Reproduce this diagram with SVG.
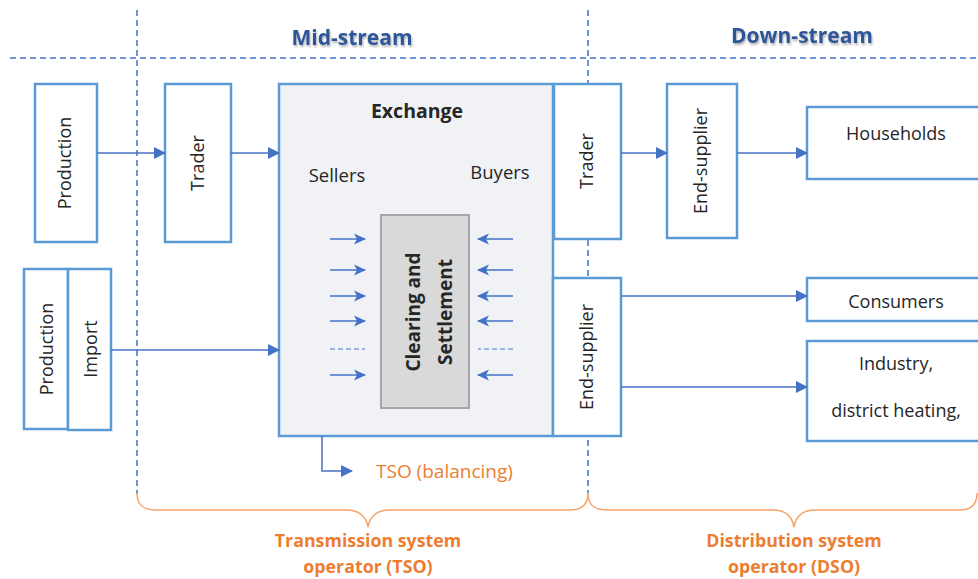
<svg xmlns="http://www.w3.org/2000/svg" width="978" height="579" viewBox="0 0 978 579">
  <defs>
    <style>
      .box { fill: #ffffff; stroke: #5b9bd5; stroke-width: 2.5; }
      .exch { fill: #f0f2f5; stroke: #5b9bd5; stroke-width: 2.5; }
      .clear { fill: #d9d9d9; stroke: #a6a6a6; stroke-width: 2; }
      .lbl { font-family: "Open Sans", "Noto Sans", sans-serif; font-size: 18px; fill: #262626; }
      .bold { font-weight: bold; }
      .head { font-family: "Open Sans", "Noto Sans", sans-serif; font-size: 21px; font-weight: bold; fill: #2f5597; }
      .org { font-family: "Open Sans", "Noto Sans", sans-serif; fill: #ed7d31; }
      .conn { fill: none; stroke: #4472c4; stroke-width: 1.5; }
      .guide { fill: none; stroke: #4472c4; stroke-width: 1.5; stroke-dasharray: 6 4; }
      .brace { fill: none; stroke: #f4a46a; stroke-width: 1.5; }
    </style>
    <marker id="tri" markerWidth="12" markerHeight="12" refX="11" refY="6" orient="auto" markerUnits="userSpaceOnUse">
      <path d="M0,0 L12,6 L0,12 z" fill="#4472c4"/>
    </marker>
    <marker id="dart" markerWidth="13" markerHeight="13" refX="12" refY="6.5" orient="auto" markerUnits="userSpaceOnUse">
      <path d="M1,1 L13,6.5 L1,12 L4,6.5 z" fill="#4472c4"/>
    </marker>
    <filter id="shadow" x="-10%" y="-30%" width="120%" height="160%">
      <feDropShadow dx="1" dy="2" stdDeviation="1.2" flood-color="#000" flood-opacity="0.3"/>
    </filter>
  </defs>

  <!-- section guides -->
  <g id="guides">
    <line class="guide" x1="10" y1="58" x2="978" y2="58"/>
    <line class="guide" x1="137" y1="10" x2="137" y2="494"/>
    <line class="guide" x1="588" y1="10" x2="588" y2="494"/>
  </g>

  <g id="headings">
    <text class="head" x="352" y="45" text-anchor="middle" filter="url(#shadow)">Mid-stream</text>
    <text class="head" x="802" y="43" text-anchor="middle" filter="url(#shadow)">Down-stream</text>
  </g>

  <!-- nodes -->
  <g id="production">
    <rect class="box" x="35" y="84" width="62" height="158"/>
    <text class="lbl" transform="rotate(-90 64 163)" x="64" y="163" text-anchor="middle" dominant-baseline="central">Production</text>
  </g>
  <g id="trader-left">
    <rect class="box" x="165" y="84" width="66" height="158"/>
    <text class="lbl" transform="rotate(-90 197 163)" x="197" y="163" text-anchor="middle" dominant-baseline="central">Trader</text>
  </g>
  <g id="production-2">
    <rect class="box" x="24" y="269" width="44" height="160"/>
    <text class="lbl" transform="rotate(-90 46 349)" x="46" y="349" text-anchor="middle" dominant-baseline="central">Production</text>
  </g>
  <g id="import">
    <rect class="box" x="68" y="269" width="43" height="161"/>
    <text class="lbl" transform="rotate(-90 90 349)" x="90" y="349" text-anchor="middle" dominant-baseline="central">Import</text>
  </g>

  <g id="exchange">
    <rect class="exch" x="279" y="84" width="274" height="352"/>
    <text class="lbl bold" x="417" y="118" text-anchor="middle" style="font-size:19.5px">Exchange</text>
    <text class="lbl" x="337" y="182" text-anchor="middle" style="font-size:18.5px">Sellers</text>
    <text class="lbl" x="500" y="179" text-anchor="middle" style="font-size:18.5px">Buyers</text>
  </g>
  <g id="clearing">
    <rect class="clear" x="381" y="215" width="88" height="193"/>
    <text class="lbl bold" transform="rotate(-90 413 312)" x="413" y="312" text-anchor="middle" dominant-baseline="central" style="font-size:19px">Clearing and</text>
    <text class="lbl bold" transform="rotate(-90 445 312)" x="445" y="312" text-anchor="middle" dominant-baseline="central" style="font-size:19px">Settlement</text>
  </g>

  <g id="trader-right">
    <rect class="box" x="554" y="84" width="67" height="155"/>
    <text class="lbl" transform="rotate(-90 586 161)" x="586" y="161" text-anchor="middle" dominant-baseline="central">Trader</text>
  </g>
  <g id="end-supplier-lower">
    <rect class="box" x="553" y="278" width="68" height="158"/>
    <text class="lbl" transform="rotate(-90 586 357)" x="586" y="357" text-anchor="middle" dominant-baseline="central">End-supplier</text>
  </g>
  <g id="end-supplier-upper">
    <rect class="box" x="667" y="84" width="70" height="154"/>
    <text class="lbl" transform="rotate(-90 700 161)" x="700" y="161" text-anchor="middle" dominant-baseline="central">End-supplier</text>
  </g>

  <g id="households">
    <rect class="box" x="807" y="107" width="180" height="72"/>
    <text class="lbl" x="896" y="140" text-anchor="middle">Households</text>
  </g>
  <g id="consumers">
    <rect class="box" x="807" y="278" width="180" height="43"/>
    <text class="lbl" x="896" y="308" text-anchor="middle">Consumers</text>
  </g>
  <g id="industry">
    <rect class="box" x="807" y="341" width="180" height="100"/>
    <text class="lbl" x="896" y="370" text-anchor="middle">Industry,</text>
    <text class="lbl" x="896" y="417" text-anchor="middle">district heating,</text>
  </g>

  <!-- connectors -->
  <g id="connectors">
    <line class="conn" x1="97" y1="153" x2="165" y2="153" marker-end="url(#tri)"/>
    <line class="conn" x1="231" y1="153" x2="279" y2="153" marker-end="url(#tri)"/>
    <line class="conn" x1="111" y1="350" x2="279" y2="350" marker-end="url(#tri)"/>
    <line class="conn" x1="621" y1="153" x2="667" y2="153" marker-end="url(#tri)"/>
    <line class="conn" x1="737" y1="153" x2="807" y2="153" marker-end="url(#tri)"/>
    <line class="conn" x1="621" y1="296" x2="807" y2="296" marker-end="url(#tri)"/>
    <line class="conn" x1="621" y1="387" x2="807" y2="387" marker-end="url(#tri)"/>
    <polyline class="conn" points="322,436 322,471 352,471" marker-end="url(#tri)"/>

    <!-- sellers into clearing -->
    <line class="conn" x1="330" y1="239" x2="365" y2="239" marker-end="url(#dart)"/>
    <line class="conn" x1="330" y1="270" x2="365" y2="270" marker-end="url(#dart)"/>
    <line class="conn" x1="330" y1="296" x2="365" y2="296" marker-end="url(#dart)"/>
    <line class="conn" x1="330" y1="321" x2="365" y2="321" marker-end="url(#dart)"/>
    <line class="conn" x1="330" y1="349" x2="365" y2="349" style="stroke-dasharray:5 3;stroke-width:1"/>
    <line class="conn" x1="330" y1="375" x2="365" y2="375" marker-end="url(#dart)"/>
    <!-- buyers into clearing -->
    <line class="conn" x1="513" y1="239" x2="478" y2="239" marker-end="url(#dart)"/>
    <line class="conn" x1="513" y1="270" x2="478" y2="270" marker-end="url(#dart)"/>
    <line class="conn" x1="513" y1="296" x2="478" y2="296" marker-end="url(#dart)"/>
    <line class="conn" x1="513" y1="321" x2="478" y2="321" marker-end="url(#dart)"/>
    <line class="conn" x1="513" y1="349" x2="478" y2="349" style="stroke-dasharray:5 3;stroke-width:1"/>
    <line class="conn" x1="513" y1="375" x2="478" y2="375" marker-end="url(#dart)"/>
  </g>

  <g id="tso-balancing">
    <text class="org" x="376" y="478" style="font-size:19px">TSO (balancing)</text>
  </g>

  <!-- operator braces -->
  <g id="tso-brace">
    <path class="brace" d="M137,493 C137,505 143,510 156,510 L346,510 C359,510 366,516 368,527 C370,516 377,510 390,510 L570,510 C582,510 588,505 588,493"/>
    <text class="org bold" x="368" y="547" text-anchor="middle" style="font-size:17.8px">Transmission system</text>
    <text class="org bold" x="368" y="573" text-anchor="middle" style="font-size:17.8px">operator (TSO)</text>
  </g>
  <g id="dso-brace">
    <path class="brace" d="M588,493 C588,505 594,510 607,510 L773,510 C786,510 792,516 794,527 C796,516 802,510 815,510 L960,510 C971,510 977,505 977,493"/>
    <text class="org bold" x="794" y="547" text-anchor="middle" style="font-size:17.8px">Distribution system</text>
    <text class="org bold" x="794" y="573" text-anchor="middle" style="font-size:17.8px">operator (DSO)</text>
  </g>
</svg>
